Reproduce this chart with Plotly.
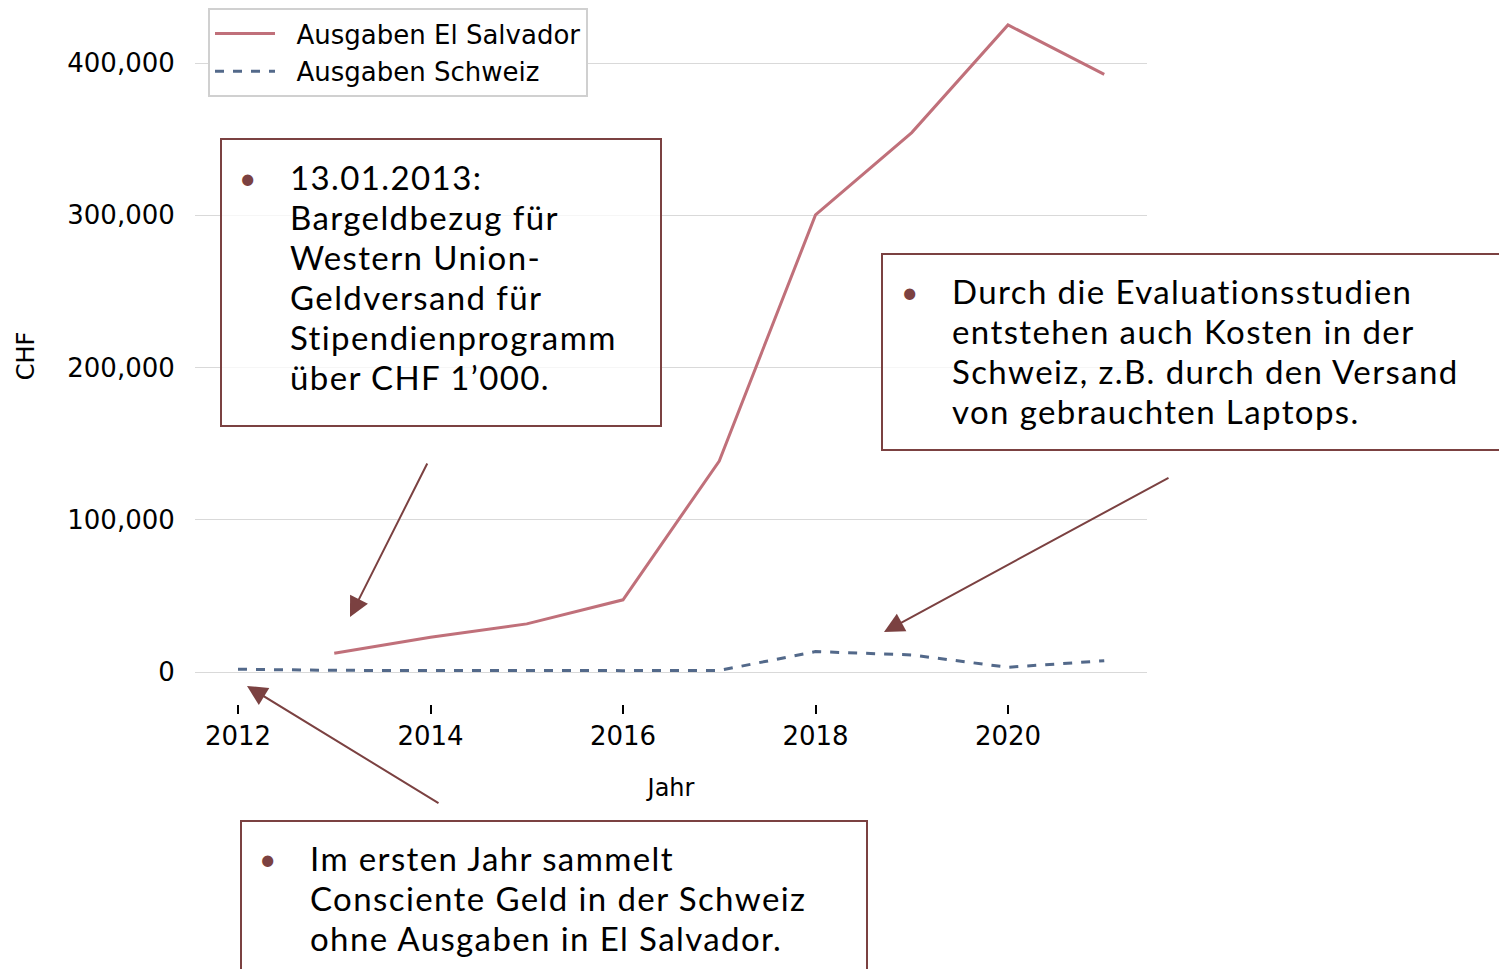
import plotly.graph_objects as go

years = [2012, 2013, 2014, 2015, 2016, 2017, 2018, 2019, 2020, 2021]
ausgaben_el_salvador = [None, 12300, 22800, 31600, 47400, 138600, 300200, 354300, 425000, 392500]
ausgaben_schweiz = [1800, 1100, 1000, 700, 900, 1000, 13400, 11200, 3100, 7400]
x_ticks = [2012, 2014, 2016, 2018, 2020]
y_ticks = [0, 100000, 200000, 300000, 400000]

box1_lines = ["13.01.2013:", "Bargeldbezug für", "Western Union-", "Geldversand für",
              "Stipendienprogramm", "über CHF 1’000."]
box2_lines = ["Durch die Evaluationsstudien", "entstehen auch Kosten in der",
              "Schweiz, z.B. durch den Versand", "von gebrauchten Laptops."]
box3_lines = ["Im ersten Jahr sammelt", "Consciente Geld in der Schweiz",
              "ohne Ausgaben in El Salvador."]

OFF = 8  # page body margin
W, H = 1507 - OFF, 969 - OFF
L, R, T, B = 195, 1147, 8, 704  # plot area in reference-page pixels
BROWN = "#7b4141"


def px(x):
    return (x - L) / (R - L)


def py(y):
    return (B - y) / (B - T)


fig = go.Figure()
fig.add_trace(go.Scatter(x=years, y=ausgaben_el_salvador, mode="lines",
                         name="\u00a0\u00a0Ausgaben El Salvador", legendgroup="a",
                         line=dict(color="#c0707a", width=3)))
fig.add_trace(go.Scatter(x=years, y=ausgaben_schweiz, mode="lines",
                         name="\u00a0\u00a0Ausgaben Schweiz", legendgroup="b",
                         line=dict(color="#53698a", width=3, dash="dash")))

shapes = []
annotations = []


def add_box(x0, y0, x1, y1, bullet_x, text_x, first_y, lines):
    shapes.append(dict(type="rect", xref="paper", yref="paper",
                       x0=px(x0), x1=px(x1), y0=py(y0), y1=py(y1),
                       line=dict(color=BROWN, width=2),
                       fillcolor="rgba(255,255,255,0.75)", layer="above"))
    annotations.append(dict(xref="paper", yref="paper", x=px(bullet_x), y=py(first_y),
                            text="•", showarrow=False, xanchor="center", yanchor="middle",
                            font=dict(family="Lato", size=30, color=BROWN)))
    for i, t in enumerate(lines):
        annotations.append(dict(xref="paper", yref="paper", x=px(text_x),
                                y=py(first_y + 40 * i),
                                text=f"<span style='letter-spacing:1.4px'>{t}</span>",
                                showarrow=False,
                                xanchor="left", yanchor="middle",
                                font=dict(family="Lato", size=33, color="black")))


add_box(221, 139, 661, 426, 247, 288, 177, box1_lines)
add_box(882, 254, 1530, 450, 909, 950, 291, box2_lines)
add_box(241, 821, 867, 990, 267, 308, 858, box3_lines)


def to_x(p):
    return 2012 + (p - 238) / 96.25


def to_y(p):
    return (672 - p) / 152.25 * 100000


for (hx, hy, tx, ty) in [(350, 617, 428, 462), (884, 632, 1170, 477), (247, 686, 440, 804)]:
    annotations.append(dict(x=to_x(hx), y=to_y(hy), xref="x", yref="y",
                            ax=tx - hx, ay=ty - hy, text="", showarrow=True,
                            arrowhead=2, arrowsize=2.0, arrowwidth=2,
                            arrowcolor=BROWN, standoff=0))

fig.update_layout(
    width=W, height=H,
    margin=dict(l=L - OFF, r=W - (R - OFF), t=T - OFF, b=H - (B - OFF), pad=0),
    paper_bgcolor="white", plot_bgcolor="white",
    font=dict(family="DejaVu Sans", size=26, color="black"),
    showlegend=True,
    legend=dict(x=px(208), y=1.0, xanchor="left", yanchor="top",
                bgcolor="white", bordercolor="#d0d0d0", borderwidth=2,
                font=dict(family="DejaVu Sans", size=26, color="black"),
                itemwidth=60, tracegroupgap=1),
    shapes=shapes,
    annotations=annotations,
)

fig.update_xaxes(range=[to_x(L), to_x(R)], tickvals=x_ticks,
                 ticktext=[str(v) for v in x_ticks],
                 showgrid=False, zeroline=False, showline=False,
                 ticks="outside", ticklen=9, tickwidth=1.5, tickcolor="black",
                 tickfont=dict(family="DejaVu Sans", size=26),
                 title=dict(text="Jahr", standoff=28,
                            font=dict(family="DejaVu Sans", size=24)))
fig.update_yaxes(range=[to_y(B), to_y(T)], tickvals=y_ticks, tickformat=",",
                 showgrid=True, gridcolor="#d9d9d9", gridwidth=1,
                 zeroline=False, showline=False,
                 ticks="outside", ticklen=14, tickcolor="rgba(0,0,0,0)",
                 tickfont=dict(family="DejaVu Sans", size=26),
                 title=dict(text="CHF", standoff=25,
                            font=dict(family="DejaVu Sans", size=24)))

fig.write_html("out.html")
